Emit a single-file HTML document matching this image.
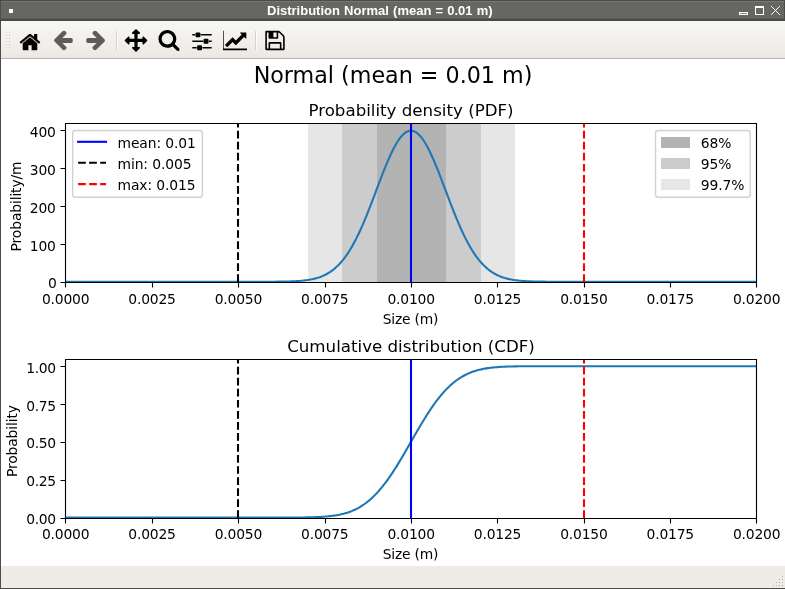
<!DOCTYPE html>
<html><head><meta charset="utf-8"><title>Distribution Normal (mean = 0.01 m)</title>
<style>
html,body{margin:0;padding:0;}
body{width:785px;height:589px;overflow:hidden;position:relative;background:#efebe7;font-family:"Liberation Sans",sans-serif;}
.win{position:absolute;left:0;top:0;width:785px;height:589px;background:#efebe7;overflow:hidden;}
.tb{position:absolute;left:0;top:0;width:785px;height:21px;background:#666762;box-sizing:border-box;border-top:1px solid #4c4d49;border-bottom:2px solid #494a46;border-left:1px solid #4c4d49;border-right:1px solid #4c4d49;}
.tb .hl{position:absolute;left:0;top:0;width:783px;height:1px;background:#767772;}
.tb .sh{position:absolute;left:0;bottom:0;width:783px;height:1px;background:#5c5d58;}
.tb .ttl{position:absolute;left:0;top:1px;word-spacing:0.55px;color:#fff;font-weight:bold;font-size:13px;line-height:18px;white-space:nowrap;}
.tb .menu{position:absolute;left:8px;top:8px;width:3.5px;height:3.5px;background:#fff;}
.lb{position:absolute;left:0;top:21px;width:1px;height:568px;background:#4c4d49;}
.bb{position:absolute;left:0;top:588px;width:785px;height:1px;background:#4c4d49;}
.tool{position:absolute;left:1px;top:21px;width:784px;height:37px;background:linear-gradient(#f9f7f3,#ece9e5);}
.tool .ln{position:absolute;left:0;top:37px;width:784px;height:1px;background:#b6b3ae;}
.ic{position:absolute;top:7px;}
.sep{position:absolute;top:10px;width:1px;height:19px;background:#d6d3ce;border-right:1px solid #fdfcfb;}
.hd{position:absolute;left:5px;top:11px;width:5px;height:17px;}
.cv{position:absolute;left:1px;top:59px;display:block;}
.status{position:absolute;left:1px;top:566px;width:784px;height:22px;background:#efebe7;}
</style></head><body>
<div class="win">
<div class="tb"><div class="hl"></div><div class="sh"></div><div class="menu"></div><div class="ttl" style="left:266px">Distribution Normal (mean = 0.01 m)</div>
<svg style="position:absolute;left:737px;top:4px" width="46" height="12" viewBox="0 0 46 12" shape-rendering="crispEdges">
<rect x="1.5" y="7.5" width="8" height="2" fill="#8a8b86" stroke="#fff" stroke-width="1"/>
<rect x="17.5" y="2.5" width="8" height="7" fill="none" stroke="#fff" stroke-width="1"/><rect x="17" y="1" width="9" height="2" fill="#fff"/>
<path d="M33.5 1.5L41.5 9.5M41.5 1.5L33.5 9.5" stroke="#fff" stroke-width="1" stroke-linecap="square" shape-rendering="auto"/>
</svg>
</div>
<div class="lb"></div>
<div class="tool">
<svg class="hd" viewBox="0 0 5 17" shape-rendering="crispEdges"><g fill="#d3cfca"><rect x="0" y="0" width="1" height="1"/><rect x="3" y="0" width="1" height="1"/><rect x="0" y="3" width="1" height="1"/><rect x="3" y="3" width="1" height="1"/><rect x="0" y="6" width="1" height="1"/><rect x="3" y="6" width="1" height="1"/><rect x="0" y="9" width="1" height="1"/><rect x="3" y="9" width="1" height="1"/><rect x="0" y="12" width="1" height="1"/><rect x="3" y="12" width="1" height="1"/><rect x="0" y="15" width="1" height="1"/><rect x="3" y="15" width="1" height="1"/></g></svg>
<svg class="ic" style="left:17px" width="24" height="24" viewBox="0 0 72 72"><path fill="#000" d="M57.86 45.94C57.86 45.87 57.86 45.79 57.82 45.72L35.99 27.73L14.18 45.72C14.18 45.79 14.14 45.87 14.14 45.94L14.14 64.15C14.14 65.48 15.24 66.58 16.57 66.58L31.14 66.58L31.14 52.02L40.86 52.02L40.86 66.58L55.43 66.58C56.76 66.58 57.86 65.48 57.86 64.15zM66.32 43.33C66.73 42.83 66.66 42.03 66.17 41.62L57.86 34.71L57.86 19.23C57.86 18.55 57.33 18.02 56.64 18.02L49.36 18.02C48.67 18.02 48.14 18.55 48.14 19.23L48.14 26.62L38.88 18.89C37.29 17.56 34.71 17.56 33.12 18.89L5.83 41.62C5.34 42.03 5.27 42.83 5.68 43.33L8.03 46.13C8.22 46.35 8.53 46.51 8.83 46.55C9.17 46.59 9.47 46.47 9.74 46.28L35.99 24.39L62.26 46.28C62.48 46.47 62.75 46.55 63.06 46.55C63.09 46.55 63.13 46.55 63.17 46.55C63.47 46.51 63.78 46.35 63.97 46.13z"/></svg>
<svg class="ic" style="left:50px" width="24" height="24" viewBox="0 0 72 72"><path fill="#5d5c5a" d="M65.14 35.01C65.14 32.42 63.43 30.15 60.7 30.15L33.99 30.15L45.11 19.04C46.02 18.12 46.55 16.87 46.55 15.58C46.55 14.29 46.02 13.03 45.11 12.13L42.26 9.32C41.34 8.41 40.13 7.88 38.85 7.88C37.55 7.88 36.3 8.41 35.39 9.32L10.69 33.99C9.82 34.9 9.29 36.14 9.29 37.44C9.29 38.73 9.82 39.98 10.69 40.85L35.39 65.6C36.3 66.47 37.55 67 38.85 67C40.13 67 41.39 66.47 42.26 65.6L45.11 62.71C46.02 61.84 46.55 60.58 46.55 59.3C46.55 58.01 46.02 56.76 45.11 55.88L33.99 44.73L60.7 44.73C63.43 44.73 65.14 42.44 65.14 39.86z"/></svg>
<svg class="ic" style="left:83px" width="24" height="24" viewBox="0 0 72 72"><path fill="#5d5c5a" d="M62.71 37.44C62.71 36.14 62.22 34.9 61.31 34.02L36.61 9.32C35.69 8.41 34.44 7.88 33.15 7.88C31.87 7.88 30.64 8.41 29.74 9.32L26.89 12.16C25.98 13.03 25.45 14.29 25.45 15.58C25.45 16.87 25.98 18.12 26.89 19L38.01 30.15L11.3 30.15C8.57 30.15 6.86 32.42 6.86 35.01L6.86 39.86C6.86 42.44 8.57 44.73 11.3 44.73L38.01 44.73L26.89 55.84C25.98 56.76 25.45 58.01 25.45 59.3C25.45 60.58 25.98 61.84 26.89 62.75L29.74 65.6C30.64 66.47 31.87 67 33.15 67C34.44 67 35.69 66.47 36.61 65.6L61.31 40.89C62.22 39.98 62.71 38.73 62.71 37.44"/></svg>
<svg class="ic" style="left:123px" width="24" height="24" viewBox="0 0 72 72"><path fill="#000" d="M70 37.44C70 36.8 69.73 36.19 69.28 35.74L59.57 26.02C59.11 25.56 58.5 25.3 57.86 25.3C56.53 25.3 55.43 26.4 55.43 27.73L55.43 32.58L40.86 32.58L40.86 18.02L45.71 18.02C47.04 18.02 48.14 16.91 48.14 15.58C48.14 14.94 47.88 14.33 47.42 13.87L37.71 4.16C37.25 3.71 36.65 3.44 36 3.44C35.35 3.44 34.75 3.71 34.29 4.16L24.58 13.87C24.12 14.33 23.86 14.94 23.86 15.58C23.86 16.91 24.96 18.02 26.29 18.02L31.14 18.02L31.14 32.58L16.57 32.58L16.57 27.73C16.57 26.4 15.47 25.3 14.14 25.3C13.5 25.3 12.89 25.56 12.43 26.02L2.72 35.74C2.27 36.19 2 36.8 2 37.44C2 38.09 2.27 38.69 2.72 39.15L12.43 48.86C12.89 49.32 13.5 49.58 14.14 49.58C15.47 49.58 16.57 48.49 16.57 47.16L16.57 42.3L31.14 42.3L31.14 56.87L26.29 56.87C24.96 56.87 23.86 57.97 23.86 59.3C23.86 59.94 24.12 60.55 24.58 61.01L34.29 70.72C34.75 71.17 35.35 71.44 36 71.44C36.65 71.44 37.25 71.17 37.71 70.72L47.42 61.01C47.88 60.55 48.14 59.94 48.14 59.3C48.14 57.97 47.04 56.87 45.71 56.87L40.86 56.87L40.86 42.3L55.43 42.3L55.43 47.16C55.43 48.49 56.53 49.58 57.86 49.58C58.5 49.58 59.11 49.32 59.57 48.86L69.28 39.15C69.73 38.69 70 38.09 70 37.44"/></svg>
<svg class="ic" style="left:156px" width="24" height="24" viewBox="0 0 72 72"><path fill="#000" d="M48.14 32.59C48.14 41.96 40.51 49.59 31.14 49.59C21.77 49.59 14.14 41.96 14.14 32.59C14.14 23.22 21.77 15.59 31.14 15.59C40.51 15.59 48.14 23.22 48.14 32.59M67.57 64.16C67.57 62.87 67.04 61.62 66.17 60.75L53.15 47.73C56.22 43.29 57.86 37.98 57.86 32.59C57.86 17.82 45.91 5.87 31.14 5.87C16.38 5.87 4.43 17.82 4.43 32.59C4.43 47.35 16.38 59.3 31.14 59.3C36.53 59.3 41.84 57.66 46.28 54.59L59.3 67.58C60.17 68.48 61.42 69.01 62.72 69.01C65.37 69.01 67.57 66.81 67.57 64.16"/></svg>
<svg class="ic" style="left:189px" width="24" height="24" viewBox="0 0 72 72"><path fill="#000" d="M20.21 56.87L6.86 56.87L6.86 61.73L20.21 61.73zM33.57 52.02L23.86 52.02C22.53 52.02 21.42 53.11 21.42 54.44L21.42 64.16C21.42 65.49 22.53 66.58 23.86 66.58L33.57 66.58C34.9 66.58 36 65.49 36 64.16L36 54.44C36 53.11 34.9 52.02 33.57 52.02M39.64 37.44L6.86 37.44L6.86 42.3L39.64 42.3zM15.36 18.02L6.86 18.02L6.86 22.87L15.36 22.87zM65.14 56.87L37.21 56.87L37.21 61.73L65.14 61.73zM28.71 13.16L19 13.16C17.67 13.16 16.57 14.26 16.57 15.58L16.57 25.3C16.57 26.62 17.67 27.73 19 27.73L28.71 27.73C30.04 27.73 31.14 26.62 31.14 25.3L31.14 15.58C31.14 14.26 30.04 13.16 28.71 13.16M53 32.58L43.29 32.58C41.96 32.58 40.86 33.69 40.86 35.02L40.86 44.73C40.86 46.06 41.96 47.16 43.29 47.16L53 47.16C54.33 47.16 55.42 46.06 55.42 44.73L55.42 35.02C55.42 33.69 54.33 32.58 53 32.58M65.14 37.44L56.64 37.44L56.64 42.3L65.14 42.3zM65.14 18.02L32.36 18.02L32.36 22.87L65.14 22.87z"/></svg>
<svg class="ic" style="left:222px" width="24" height="24" viewBox="0 0 72 72"><path fill="#000" d="M74.86 61.73L2 61.73L2 8.3L-2.86 8.3L-2.86 66.58L74.86 66.58zM70 14.37C70 13.69 69.47 13.16 68.79 13.16L52.28 13.16C51.22 13.16 50.65 14.45 51.45 15.24L56.04 19.83L38.43 37.44L29.59 28.6C29.09 28.11 28.34 28.11 27.84 28.6L5.64 50.8L12.93 58.08L28.71 42.3L37.56 51.15C38.05 51.63 38.8 51.63 39.3 51.15L63.33 27.12L67.92 31.71C68.71 32.51 70 31.94 70 30.87z"/></svg>
<svg class="ic" style="left:262px" width="24" height="24" viewBox="0 0 72 72"><path fill="#000" d="M21.42 61.73L21.42 47.16L50.57 47.16L50.57 61.73zM55.42 61.73L55.42 45.94C55.42 43.93 53.8 42.3 51.79 42.3L20.21 42.3C18.2 42.3 16.57 43.93 16.57 45.94L16.57 61.73L11.71 61.73L11.71 13.16L16.57 13.16L16.57 28.94C16.57 30.96 18.2 32.58 20.21 32.58L42.07 32.58C44.09 32.58 45.71 30.96 45.71 28.94L45.71 13.16C46.48 13.16 47.95 13.77 48.48 14.3L59.14 24.96C59.64 25.45 60.29 27.01 60.29 27.73L60.29 61.73zM40.86 26.52C40.86 27.16 40.28 27.73 39.64 27.73L32.36 27.73C31.71 27.73 31.14 27.16 31.14 26.52L31.14 14.37C31.14 13.72 31.71 13.16 32.36 13.16L39.64 13.16C40.28 13.16 40.86 13.72 40.86 14.37zM65.14 27.73C65.14 25.72 64.01 22.95 62.56 21.5L51.94 10.88C50.49 9.44 47.72 8.3 45.71 8.3L10.5 8.3C8.49 8.3 6.86 9.93 6.86 11.94L6.86 62.94C6.86 64.96 8.49 66.58 10.5 66.58L61.5 66.58C63.51 66.58 65.14 64.96 65.14 62.94z"/></svg>
<div class="sep" style="left:115px"></div><div class="sep" style="left:254px"></div>
<div class="ln"></div>
</div>
<svg width="784" height="507" viewBox="0 0 784 507" class="cv" font-family="DejaVu Sans, Liberation Sans, sans-serif" font-size="13.889px" fill="#000" letter-spacing="-0.2">
<rect x="0" y="0" width="784" height="507" fill="#fff"/>
<defs><clipPath id="c1"><rect x="64" y="64" width="692" height="160"/></clipPath><clipPath id="c2"><rect x="64" y="300" width="692" height="160"/></clipPath></defs>
<rect x="307" y="64" width="207" height="159.5" fill="#e6e6e6"/>
<rect x="341" y="64" width="139" height="159.5" fill="#cccccc"/>
<rect x="376" y="64" width="69" height="159.5" fill="#b3b3b3"/>
<polyline clip-path="url(#c1)" fill="none" stroke="#1f77b4" stroke-width="2.083" stroke-linejoin="round" stroke-linecap="square" points="64.44,222.75 65.82,222.75 67.21,222.75 68.59,222.75 69.98,222.75 71.36,222.75 72.75,222.75 74.13,222.75 75.52,222.75 76.90,222.75 78.29,222.75 79.67,222.75 81.06,222.75 82.44,222.75 83.83,222.75 85.21,222.75 86.60,222.75 87.98,222.75 89.37,222.75 90.75,222.75 92.14,222.75 93.52,222.75 94.90,222.75 96.29,222.75 97.67,222.75 99.06,222.75 100.44,222.75 101.83,222.75 103.21,222.75 104.60,222.75 105.98,222.75 107.37,222.75 108.75,222.75 110.14,222.75 111.52,222.75 112.91,222.75 114.29,222.75 115.68,222.75 117.06,222.75 118.45,222.75 119.83,222.75 121.22,222.75 122.60,222.75 123.99,222.75 125.37,222.75 126.75,222.75 128.14,222.75 129.52,222.75 130.91,222.75 132.29,222.75 133.68,222.75 135.06,222.75 136.45,222.75 137.83,222.75 139.22,222.75 140.60,222.75 141.99,222.75 143.37,222.75 144.76,222.75 146.14,222.75 147.53,222.75 148.91,222.75 150.30,222.75 151.68,222.75 153.07,222.75 154.45,222.75 155.83,222.75 157.22,222.75 158.60,222.75 159.99,222.75 161.37,222.75 162.76,222.75 164.14,222.75 165.53,222.75 166.91,222.75 168.30,222.75 169.68,222.75 171.07,222.75 172.45,222.75 173.84,222.75 175.22,222.75 176.61,222.75 177.99,222.75 179.38,222.75 180.76,222.75 182.15,222.75 183.53,222.75 184.91,222.75 186.30,222.75 187.68,222.75 189.07,222.75 190.45,222.75 191.84,222.75 193.22,222.75 194.61,222.75 195.99,222.75 197.38,222.75 198.76,222.75 200.15,222.75 201.53,222.75 202.92,222.75 204.30,222.75 205.69,222.75 207.07,222.75 208.46,222.75 209.84,222.75 211.23,222.75 212.61,222.75 214.00,222.75 215.38,222.75 216.76,222.75 218.15,222.75 219.53,222.75 220.92,222.75 222.30,222.75 223.69,222.75 225.07,222.75 226.46,222.75 227.84,222.75 229.23,222.75 230.61,222.75 232.00,222.75 233.38,222.75 234.77,222.75 236.15,222.75 237.54,222.75 238.92,222.75 240.31,222.75 241.69,222.75 243.08,222.75 244.46,222.75 245.84,222.75 247.23,222.75 248.61,222.75 250.00,222.75 251.38,222.75 252.77,222.75 254.15,222.74 255.54,222.74 256.92,222.74 258.31,222.74 259.69,222.74 261.08,222.74 262.46,222.73 263.85,222.73 265.23,222.73 266.62,222.72 268.00,222.72 269.39,222.71 270.77,222.70 272.16,222.70 273.54,222.69 274.92,222.68 276.31,222.66 277.69,222.65 279.08,222.63 280.46,222.62 281.85,222.59 283.23,222.57 284.62,222.54 286.00,222.51 287.39,222.47 288.77,222.43 290.16,222.38 291.54,222.32 292.93,222.26 294.31,222.19 295.70,222.11 297.08,222.02 298.47,221.92 299.85,221.81 301.24,221.68 302.62,221.54 304.01,221.38 305.39,221.20 306.77,221.00 308.16,220.78 309.54,220.53 310.93,220.26 312.31,219.96 313.70,219.63 315.08,219.26 316.47,218.86 317.85,218.42 319.24,217.94 320.62,217.41 322.01,216.83 323.39,216.20 324.78,215.51 326.16,214.77 327.55,213.96 328.93,213.08 330.32,212.14 331.70,211.12 333.09,210.03 334.47,208.85 335.85,207.59 337.24,206.25 338.62,204.81 340.01,203.28 341.39,201.65 342.78,199.92 344.16,198.09 345.55,196.15 346.93,194.12 348.32,191.97 349.70,189.71 351.09,187.35 352.47,184.88 353.86,182.30 355.24,179.62 356.63,176.83 358.01,173.94 359.40,170.95 360.78,167.87 362.17,164.69 363.55,161.43 364.93,158.09 366.32,154.68 367.70,151.21 369.09,147.68 370.47,144.10 371.86,140.48 373.24,136.83 374.63,133.17 376.01,129.49 377.40,125.83 378.78,122.18 380.17,118.56 381.55,114.99 382.94,111.47 384.32,108.02 385.71,104.66 387.09,101.39 388.48,98.23 389.86,95.19 391.25,92.29 392.63,89.53 394.02,86.94 395.40,84.52 396.78,82.28 398.17,80.24 399.55,78.39 400.94,76.76 402.32,75.35 403.71,74.16 405.09,73.20 406.48,72.48 407.86,71.99 409.25,71.75 410.63,71.75 412.02,71.99 413.40,72.48 414.79,73.20 416.17,74.16 417.56,75.35 418.94,76.76 420.33,78.39 421.71,80.24 423.10,82.28 424.48,84.52 425.86,86.94 427.25,89.53 428.63,92.29 430.02,95.19 431.40,98.23 432.79,101.39 434.17,104.66 435.56,108.02 436.94,111.47 438.33,114.99 439.71,118.56 441.10,122.18 442.48,125.83 443.87,129.49 445.25,133.17 446.64,136.83 448.02,140.48 449.41,144.10 450.79,147.68 452.18,151.21 453.56,154.68 454.95,158.09 456.33,161.43 457.71,164.69 459.10,167.87 460.48,170.95 461.87,173.94 463.25,176.83 464.64,179.62 466.02,182.30 467.41,184.88 468.79,187.35 470.18,189.71 471.56,191.97 472.95,194.12 474.33,196.15 475.72,198.09 477.10,199.92 478.49,201.65 479.87,203.28 481.26,204.81 482.64,206.25 484.03,207.59 485.41,208.85 486.79,210.03 488.18,211.12 489.56,212.14 490.95,213.08 492.33,213.96 493.72,214.77 495.10,215.51 496.49,216.20 497.87,216.83 499.26,217.41 500.64,217.94 502.03,218.42 503.41,218.86 504.80,219.26 506.18,219.63 507.57,219.96 508.95,220.26 510.34,220.53 511.72,220.78 513.11,221.00 514.49,221.20 515.87,221.38 517.26,221.54 518.64,221.68 520.03,221.81 521.41,221.92 522.80,222.02 524.18,222.11 525.57,222.19 526.95,222.26 528.34,222.32 529.72,222.38 531.11,222.43 532.49,222.47 533.88,222.51 535.26,222.54 536.65,222.57 538.03,222.59 539.42,222.62 540.80,222.63 542.19,222.65 543.57,222.66 544.96,222.68 546.34,222.69 547.72,222.70 549.11,222.70 550.49,222.71 551.88,222.72 553.26,222.72 554.65,222.73 556.03,222.73 557.42,222.73 558.80,222.74 560.19,222.74 561.57,222.74 562.96,222.74 564.34,222.74 565.73,222.74 567.11,222.75 568.50,222.75 569.88,222.75 571.27,222.75 572.65,222.75 574.04,222.75 575.42,222.75 576.80,222.75 578.19,222.75 579.57,222.75 580.96,222.75 582.34,222.75 583.73,222.75 585.11,222.75 586.50,222.75 587.88,222.75 589.27,222.75 590.65,222.75 592.04,222.75 593.42,222.75 594.81,222.75 596.19,222.75 597.58,222.75 598.96,222.75 600.35,222.75 601.73,222.75 603.12,222.75 604.50,222.75 605.88,222.75 607.27,222.75 608.65,222.75 610.04,222.75 611.42,222.75 612.81,222.75 614.19,222.75 615.58,222.75 616.96,222.75 618.35,222.75 619.73,222.75 621.12,222.75 622.50,222.75 623.89,222.75 625.27,222.75 626.66,222.75 628.04,222.75 629.43,222.75 630.81,222.75 632.20,222.75 633.58,222.75 634.97,222.75 636.35,222.75 637.73,222.75 639.12,222.75 640.50,222.75 641.89,222.75 643.27,222.75 644.66,222.75 646.04,222.75 647.43,222.75 648.81,222.75 650.20,222.75 651.58,222.75 652.97,222.75 654.35,222.75 655.74,222.75 657.12,222.75 658.51,222.75 659.89,222.75 661.28,222.75 662.66,222.75 664.05,222.75 665.43,222.75 666.81,222.75 668.20,222.75 669.58,222.75 670.97,222.75 672.35,222.75 673.74,222.75 675.12,222.75 676.51,222.75 677.89,222.75 679.28,222.75 680.66,222.75 682.05,222.75 683.43,222.75 684.82,222.75 686.20,222.75 687.59,222.75 688.97,222.75 690.36,222.75 691.74,222.75 693.13,222.75 694.51,222.75 695.89,222.75 697.28,222.75 698.66,222.75 700.05,222.75 701.43,222.75 702.82,222.75 704.20,222.75 705.59,222.75 706.97,222.75 708.36,222.75 709.74,222.75 711.13,222.75 712.51,222.75 713.90,222.75 715.28,222.75 716.67,222.75 718.05,222.75 719.44,222.75 720.82,222.75 722.21,222.75 723.59,222.75 724.98,222.75 726.36,222.75 727.74,222.75 729.13,222.75 730.51,222.75 731.90,222.75 733.28,222.75 734.67,222.75 736.05,222.75 737.44,222.75 738.82,222.75 740.21,222.75 741.59,222.75 742.98,222.75 744.36,222.75 745.75,222.75 747.13,222.75 748.52,222.75 749.90,222.75 751.29,222.75 752.67,222.75 754.06,222.75 755.44,222.75"/>
<polyline clip-path="url(#c2)" fill="none" stroke="#1f77b4" stroke-width="2.083" stroke-linejoin="round" stroke-linecap="square" points="64.44,458.60 65.82,458.60 67.21,458.60 68.59,458.60 69.98,458.60 71.36,458.60 72.75,458.60 74.13,458.60 75.52,458.60 76.90,458.60 78.29,458.60 79.67,458.60 81.06,458.60 82.44,458.60 83.83,458.60 85.21,458.60 86.60,458.60 87.98,458.60 89.37,458.60 90.75,458.60 92.14,458.60 93.52,458.60 94.90,458.60 96.29,458.60 97.67,458.60 99.06,458.60 100.44,458.60 101.83,458.60 103.21,458.60 104.60,458.60 105.98,458.60 107.37,458.60 108.75,458.60 110.14,458.60 111.52,458.60 112.91,458.60 114.29,458.60 115.68,458.60 117.06,458.60 118.45,458.60 119.83,458.60 121.22,458.60 122.60,458.60 123.99,458.60 125.37,458.60 126.75,458.60 128.14,458.60 129.52,458.60 130.91,458.60 132.29,458.60 133.68,458.60 135.06,458.60 136.45,458.60 137.83,458.60 139.22,458.60 140.60,458.60 141.99,458.60 143.37,458.60 144.76,458.60 146.14,458.60 147.53,458.60 148.91,458.60 150.30,458.60 151.68,458.60 153.07,458.60 154.45,458.60 155.83,458.60 157.22,458.60 158.60,458.60 159.99,458.60 161.37,458.60 162.76,458.60 164.14,458.60 165.53,458.60 166.91,458.60 168.30,458.60 169.68,458.60 171.07,458.60 172.45,458.60 173.84,458.60 175.22,458.60 176.61,458.60 177.99,458.60 179.38,458.60 180.76,458.60 182.15,458.60 183.53,458.60 184.91,458.60 186.30,458.60 187.68,458.60 189.07,458.60 190.45,458.60 191.84,458.60 193.22,458.60 194.61,458.60 195.99,458.60 197.38,458.60 198.76,458.60 200.15,458.60 201.53,458.60 202.92,458.60 204.30,458.60 205.69,458.60 207.07,458.60 208.46,458.60 209.84,458.60 211.23,458.60 212.61,458.60 214.00,458.60 215.38,458.60 216.76,458.60 218.15,458.60 219.53,458.60 220.92,458.60 222.30,458.60 223.69,458.60 225.07,458.60 226.46,458.60 227.84,458.60 229.23,458.60 230.61,458.60 232.00,458.60 233.38,458.60 234.77,458.60 236.15,458.60 237.54,458.60 238.92,458.60 240.31,458.60 241.69,458.60 243.08,458.60 244.46,458.60 245.84,458.60 247.23,458.60 248.61,458.60 250.00,458.60 251.38,458.60 252.77,458.60 254.15,458.60 255.54,458.60 256.92,458.60 258.31,458.60 259.69,458.60 261.08,458.60 262.46,458.60 263.85,458.60 265.23,458.60 266.62,458.60 268.00,458.60 269.39,458.60 270.77,458.60 272.16,458.59 273.54,458.59 274.92,458.59 276.31,458.59 277.69,458.59 279.08,458.59 280.46,458.59 281.85,458.58 283.23,458.58 284.62,458.58 286.00,458.57 287.39,458.57 288.77,458.57 290.16,458.56 291.54,458.55 292.93,458.55 294.31,458.54 295.70,458.53 297.08,458.52 298.47,458.51 299.85,458.49 301.24,458.47 302.62,458.46 304.01,458.44 305.39,458.41 306.77,458.39 308.16,458.36 309.54,458.32 310.93,458.28 312.31,458.24 313.70,458.20 315.08,458.14 316.47,458.08 317.85,458.02 319.24,457.94 320.62,457.86 322.01,457.77 323.39,457.67 324.78,457.56 326.16,457.44 327.55,457.31 328.93,457.16 330.32,457.00 331.70,456.82 333.09,456.62 334.47,456.41 335.85,456.18 337.24,455.92 338.62,455.65 340.01,455.35 341.39,455.02 342.78,454.67 344.16,454.29 345.55,453.88 346.93,453.44 348.32,452.96 349.70,452.45 351.09,451.90 352.47,451.31 353.86,450.69 355.24,450.02 356.63,449.30 358.01,448.54 359.40,447.74 360.78,446.88 362.17,445.98 363.55,445.02 364.93,444.01 366.32,442.95 367.70,441.83 369.09,440.65 370.47,439.42 371.86,438.13 373.24,436.78 374.63,435.37 376.01,433.91 377.40,432.38 378.78,430.80 380.17,429.16 381.55,427.46 382.94,425.70 384.32,423.89 385.71,422.03 387.09,420.11 388.48,418.14 389.86,416.11 391.25,414.05 392.63,411.93 394.02,409.78 395.40,407.58 396.78,405.34 398.17,403.08 399.55,400.78 400.94,398.45 402.32,396.10 403.71,393.72 405.09,391.33 406.48,388.93 407.86,386.52 409.25,384.10 410.63,381.68 412.02,379.26 413.40,376.84 414.79,374.44 416.17,372.05 417.56,369.68 418.94,367.32 420.33,365.00 421.71,362.70 423.10,360.43 424.48,358.19 425.86,356.00 427.25,353.84 428.63,351.73 430.02,349.66 431.40,347.64 432.79,345.66 434.17,343.75 435.56,341.88 436.94,340.07 438.33,338.31 439.71,336.61 441.10,334.97 442.48,333.39 443.87,331.86 445.25,330.40 446.64,328.99 448.02,327.64 449.41,326.35 450.79,325.12 452.18,323.95 453.56,322.83 454.95,321.76 456.33,320.75 457.71,319.80 459.10,318.89 460.48,318.04 461.87,317.23 463.25,316.47 464.64,315.76 466.02,315.09 467.41,314.46 468.79,313.87 470.18,313.32 471.56,312.81 472.95,312.34 474.33,311.89 475.72,311.48 477.10,311.10 478.49,310.75 479.87,310.42 481.26,310.12 482.64,309.85 484.03,309.60 485.41,309.36 486.79,309.15 488.18,308.95 489.56,308.78 490.95,308.61 492.33,308.47 493.72,308.33 495.10,308.21 496.49,308.10 497.87,308.00 499.26,307.91 500.64,307.83 502.03,307.75 503.41,307.69 504.80,307.63 506.18,307.58 507.57,307.53 508.95,307.49 510.34,307.45 511.72,307.42 513.11,307.39 514.49,307.36 515.87,307.34 517.26,307.31 518.64,307.30 520.03,307.28 521.41,307.27 522.80,307.25 524.18,307.24 525.57,307.23 526.95,307.22 528.34,307.22 529.72,307.21 531.11,307.21 532.49,307.20 533.88,307.20 535.26,307.19 536.65,307.19 538.03,307.19 539.42,307.18 540.80,307.18 542.19,307.18 543.57,307.18 544.96,307.18 546.34,307.18 547.72,307.18 549.11,307.18 550.49,307.18 551.88,307.17 553.26,307.17 554.65,307.17 556.03,307.17 557.42,307.17 558.80,307.17 560.19,307.17 561.57,307.17 562.96,307.17 564.34,307.17 565.73,307.17 567.11,307.17 568.50,307.17 569.88,307.17 571.27,307.17 572.65,307.17 574.04,307.17 575.42,307.17 576.80,307.17 578.19,307.17 579.57,307.17 580.96,307.17 582.34,307.17 583.73,307.17 585.11,307.17 586.50,307.17 587.88,307.17 589.27,307.17 590.65,307.17 592.04,307.17 593.42,307.17 594.81,307.17 596.19,307.17 597.58,307.17 598.96,307.17 600.35,307.17 601.73,307.17 603.12,307.17 604.50,307.17 605.88,307.17 607.27,307.17 608.65,307.17 610.04,307.17 611.42,307.17 612.81,307.17 614.19,307.17 615.58,307.17 616.96,307.17 618.35,307.17 619.73,307.17 621.12,307.17 622.50,307.17 623.89,307.17 625.27,307.17 626.66,307.17 628.04,307.17 629.43,307.17 630.81,307.17 632.20,307.17 633.58,307.17 634.97,307.17 636.35,307.17 637.73,307.17 639.12,307.17 640.50,307.17 641.89,307.17 643.27,307.17 644.66,307.17 646.04,307.17 647.43,307.17 648.81,307.17 650.20,307.17 651.58,307.17 652.97,307.17 654.35,307.17 655.74,307.17 657.12,307.17 658.51,307.17 659.89,307.17 661.28,307.17 662.66,307.17 664.05,307.17 665.43,307.17 666.81,307.17 668.20,307.17 669.58,307.17 670.97,307.17 672.35,307.17 673.74,307.17 675.12,307.17 676.51,307.17 677.89,307.17 679.28,307.17 680.66,307.17 682.05,307.17 683.43,307.17 684.82,307.17 686.20,307.17 687.59,307.17 688.97,307.17 690.36,307.17 691.74,307.17 693.13,307.17 694.51,307.17 695.89,307.17 697.28,307.17 698.66,307.17 700.05,307.17 701.43,307.17 702.82,307.17 704.20,307.17 705.59,307.17 706.97,307.17 708.36,307.17 709.74,307.17 711.13,307.17 712.51,307.17 713.90,307.17 715.28,307.17 716.67,307.17 718.05,307.17 719.44,307.17 720.82,307.17 722.21,307.17 723.59,307.17 724.98,307.17 726.36,307.17 727.74,307.17 729.13,307.17 730.51,307.17 731.90,307.17 733.28,307.17 734.67,307.17 736.05,307.17 737.44,307.17 738.82,307.17 740.21,307.17 741.59,307.17 742.98,307.17 744.36,307.17 745.75,307.17 747.13,307.17 748.52,307.17 749.90,307.17 751.29,307.17 752.67,307.17 754.06,307.17 755.44,307.17"/>
<line x1="410" x2="410" y1="223" y2="64" stroke="#0000ff" stroke-width="2.083"/>
<line x1="237" x2="237" y1="223" y2="64" stroke="#000000" stroke-width="2.083" stroke-dasharray="7.71 3.33"/>
<line x1="583" x2="583" y1="223" y2="64" stroke="#ff0000" stroke-width="2.083" stroke-dasharray="7.71 3.33"/>
<line x1="410" x2="410" y1="459" y2="300" stroke="#0000ff" stroke-width="2.083"/>
<line x1="237" x2="237" y1="459" y2="300" stroke="#000000" stroke-width="2.083" stroke-dasharray="7.71 3.33"/>
<line x1="583" x2="583" y1="459" y2="300" stroke="#ff0000" stroke-width="2.083" stroke-dasharray="7.71 3.33"/>
<path d="M64.5 64.5H755.5V223.5H64.5ZM64.5 223.5v5M151.5 223.5v5M237.5 223.5v5M324.5 223.5v5M410.5 223.5v5M496.5 223.5v5M583.5 223.5v5M669.5 223.5v5M755.5 223.5v5M64.5 223.5h-5M64.5 185.5h-5M64.5 147.5h-5M64.5 109.5h-5M64.5 71.5h-5M64.5 300.5H755.5V459.5H64.5ZM64.5 459.5v5M151.5 459.5v5M237.5 459.5v5M324.5 459.5v5M410.5 459.5v5M496.5 459.5v5M583.5 459.5v5M669.5 459.5v5M755.5 459.5v5M64.5 459.5h-5M64.5 421.5h-5M64.5 383.5h-5M64.5 345.5h-5M64.5 307.5h-5" fill="none" stroke="#000" stroke-width="1.11" stroke-linejoin="miter"/>
<text x="64.64" y="245" text-anchor="middle">0.0000</text>
<text x="151.01" y="245" text-anchor="middle">0.0025</text>
<text x="237.39" y="245" text-anchor="middle">0.0050</text>
<text x="323.76" y="245" text-anchor="middle">0.0075</text>
<text x="410.14" y="245" text-anchor="middle">0.0100</text>
<text x="496.51" y="245" text-anchor="middle">0.0125</text>
<text x="582.89" y="245" text-anchor="middle">0.0150</text>
<text x="669.27" y="245" text-anchor="middle">0.0175</text>
<text x="755.64" y="245" text-anchor="middle">0.0200</text>
<text x="64.64" y="480" text-anchor="middle">0.0000</text>
<text x="151.01" y="480" text-anchor="middle">0.0025</text>
<text x="237.39" y="480" text-anchor="middle">0.0050</text>
<text x="323.76" y="480" text-anchor="middle">0.0075</text>
<text x="410.14" y="480" text-anchor="middle">0.0100</text>
<text x="496.51" y="480" text-anchor="middle">0.0125</text>
<text x="582.89" y="480" text-anchor="middle">0.0150</text>
<text x="669.27" y="480" text-anchor="middle">0.0175</text>
<text x="755.64" y="480" text-anchor="middle">0.0200</text>
<text x="55.7" y="229" text-anchor="end">0</text>
<text x="54.7" y="192" text-anchor="end">100</text>
<text x="54.7" y="154" text-anchor="end">200</text>
<text x="54.7" y="116" text-anchor="end">300</text>
<text x="54.7" y="78" text-anchor="end">400</text>
<text x="54.7" y="465" text-anchor="end" letter-spacing="-0.35">0.00</text>
<text x="54.7" y="427" text-anchor="end" letter-spacing="-0.35">0.25</text>
<text x="54.7" y="389" text-anchor="end" letter-spacing="-0.35">0.50</text>
<text x="54.7" y="352" text-anchor="end" letter-spacing="-0.35">0.75</text>
<text x="54.7" y="314" text-anchor="end" letter-spacing="-0.35">1.00</text>
<text x="409.5" y="264.5" text-anchor="middle">Size (m)</text>
<text x="409.5" y="499.5" text-anchor="middle">Size (m)</text>
<text transform="translate(20,147.5) rotate(-90)" text-anchor="middle" letter-spacing="-0.13">Probability/m</text>
<text transform="translate(16,382.1) rotate(-90)" text-anchor="middle" letter-spacing="-0.13">Probability</text>
<text x="410" y="56.5" text-anchor="middle" font-size="16.667px" letter-spacing="0">Probability density (PDF)</text>
<text x="410" y="292.5" text-anchor="middle" font-size="16.667px" letter-spacing="0">Cumulative distribution (CDF)</text>
<text x="392" y="24" text-anchor="middle" font-size="22.222px" letter-spacing="0">Normal (mean = 0.01 m)</text>
<rect x="71.7" y="71.55" width="129.7" height="66.64999999999999" rx="2.8" ry="2.8" fill="#fff" fill-opacity="0.8" stroke="#ccc" stroke-opacity="0.9" stroke-width="1.39"/>
<line x1="77.1" x2="105.0" y1="82.8" y2="82.8" stroke="#00f" stroke-width="2.083" stroke-linecap="square"/>
<line x1="77.1" x2="105.0" y1="103.7" y2="103.7" stroke="#000" stroke-width="2.083" stroke-dasharray="7.71 3.33"/>
<line x1="77.1" x2="105.0" y1="125.1" y2="125.1" stroke="#f00" stroke-width="2.083" stroke-dasharray="7.71 3.33"/>
<text x="116.5" y="88.5" text-anchor="start" letter-spacing="-0.1">mean: 0.01</text>
<text x="116.5" y="109.6" text-anchor="start" letter-spacing="-0.1">min: 0.005</text>
<text x="116.5" y="130.6" text-anchor="start" letter-spacing="-0.1">max: 0.015</text>
<rect x="654.5" y="71.5" width="94.70000000000005" height="66.69999999999999" rx="2.8" ry="2.8" fill="#fff" fill-opacity="0.8" stroke="#ccc" stroke-opacity="0.9" stroke-width="1.39"/>
<rect x="660" y="78" width="29" height="11" fill="#b3b3b3"/>
<text x="699.8" y="88.5" text-anchor="start" letter-spacing="-0.1">68%</text>
<rect x="660" y="99" width="29" height="11" fill="#cccccc"/>
<text x="699.8" y="109.6" text-anchor="start" letter-spacing="-0.1">95%</text>
<rect x="660" y="120" width="29" height="11" fill="#e6e6e6"/>
<text x="699.8" y="130.6" text-anchor="start" letter-spacing="-0.1">99.7%</text>
</svg>
<div class="status"><svg style="position:absolute;right:1px;bottom:1px" width="12" height="12" viewBox="0 0 12 12" shape-rendering="crispEdges"><g fill="#b0ada8"><rect x="10" y="1" width="1" height="1"/><rect x="7" y="4" width="1" height="1"/><rect x="10" y="4" width="1" height="1"/><rect x="4" y="7" width="1" height="1"/><rect x="7" y="7" width="1" height="1"/><rect x="10" y="7" width="1" height="1"/><rect x="1" y="10" width="1" height="1"/><rect x="4" y="10" width="1" height="1"/><rect x="7" y="10" width="1" height="1"/><rect x="10" y="10" width="1" height="1"/></g></svg></div>
<div class="bb"></div>
</div>
</body></html>
